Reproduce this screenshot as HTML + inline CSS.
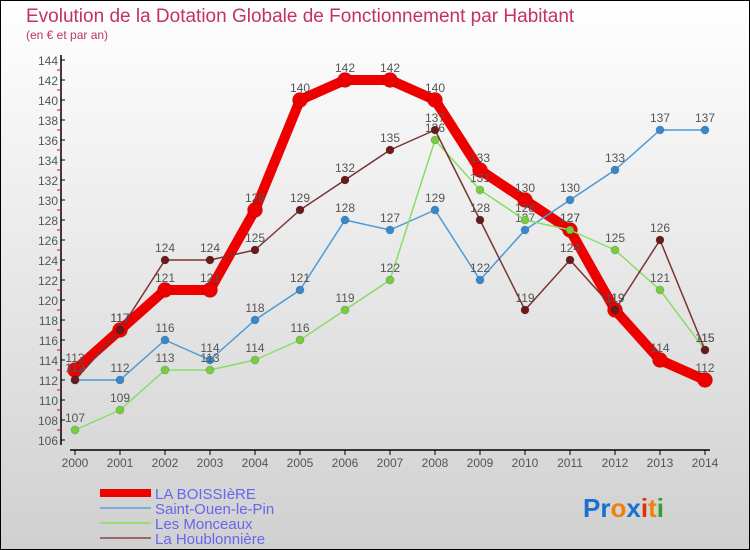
<!DOCTYPE html>
<html><head><meta charset="utf-8"><style>
html,body{margin:0;padding:0;}
body{width:750px;height:550px;overflow:hidden;}
svg{display:block;}
text{font-family:"Liberation Sans",sans-serif;}
</style></head><body>
<svg id="chart" width="750" height="550" xmlns="http://www.w3.org/2000/svg">
<defs><linearGradient id="bg" x1="0" y1="0" x2="0" y2="1"><stop offset="0" stop-color="#ffffff"/><stop offset="1" stop-color="#d0d0d0"/></linearGradient></defs>
<rect x="0.5" y="0.5" width="749" height="549" fill="url(#bg)" stroke="#000"/>
<text x="26" y="22" font-size="19" fill="#c4325f">Evolution de la Dotation Globale de Fonctionnement par Habitant</text>
<text x="26" y="39" font-size="12" fill="#c4325f">(en € et par an)</text>
<g id="axes"></g>
<g id="series"></g>
<g id="legend"></g>
<text x="583" y="517" font-size="26" font-weight="bold"><tspan fill="#1a6fd0">Pr</tspan><tspan fill="#f08010">o</tspan><tspan fill="#1a6fd0">x</tspan><tspan fill="#e03010">i</tspan><tspan fill="#f08010">t</tspan><tspan fill="#30a030">i</tspan></text>
</svg>
<script>
const years=[2000,2001,2002,2003,2004,2005,2006,2007,2008,2009,2010,2011,2012,2013,2014];
const boissiere=[113,117,121,121,129,140,142,142,140,133,130,127,119,114,112];
const saintOuen=[112,112,116,114,118,121,128,127,129,122,127,130,133,137,137];
const monceaux=[107,109,113,113,114,116,119,122,136,131,128,127,125,121,115];
const houblon=[112,117,124,124,125,129,132,135,137,128,119,124,119,126,115];
const yTicks=[106,108,110,112,114,116,118,120,122,124,126,128,130,132,134,136,138,140,142,144];
const NS="http://www.w3.org/2000/svg";
function X(i){return 75+i*45;}
function Y(v){return 60+(144-v)*10;}
function mk(tag,attrs,parent){const e=document.createElementNS(NS,tag);for(const k in attrs)e.setAttribute(k,attrs[k]);parent.appendChild(e);return e;}
const axes=document.getElementById('axes');
let yl=mk('line',{x1:61,y1:55,x2:61,y2:445,stroke:'#000','stroke-width':1.5},axes);


let xl=mk('line',{x1:70,y1:450,x2:710,y2:450,stroke:'#000','stroke-width':1.5},axes);


yTicks.forEach(v=>{
  mk('line',{x1:61,y1:Y(v),x2:65,y2:Y(v),stroke:'#000'},axes);
  if(v<144)mk('line',{x1:57,y1:Y(v+1),x2:61,y2:Y(v+1),stroke:'#e00'},axes);
  const t=mk('text',{x:58,y:Y(v)+5,'text-anchor':'end','font-size':12,fill:'#555'},axes);
  t.textContent=v;
  
  
});
years.forEach((yr,i)=>{
  mk('line',{x1:X(i),y1:450,x2:X(i),y2:455,stroke:'#000'},axes);
  const t=mk('text',{x:X(i),y:467,'text-anchor':'middle','font-size':12,fill:'#555'},axes);
  t.textContent=yr;
  
  
});
const series=[
 {name:'boissiere',vals:boissiere,color:'#ee0000',dot:'#ee0000',w:10,r:7.5},
 {name:'saint-ouen',vals:saintOuen,color:'#4a9ad8',dot:'#3a88cc',w:1.5,r:4},
 {name:'monceaux',vals:monceaux,color:'#88dd66',dot:'#77cc44',w:1.5,r:4},
 {name:'houblonniere',vals:houblon,color:'#7a3333',dot:'#6a1a1a',w:1.5,r:4}
];
const sg=document.getElementById('series');
series.forEach(s=>{
  const g=mk('g',{},sg);
  
  
  const pts=s.vals.map((v,i)=>X(i)+','+Y(v)).join(' ');
  const pl=mk('polyline',{points:pts,fill:'none',stroke:s.color,'stroke-width':s.w,'stroke-linejoin':'round'},g);
  
  
  s.vals.forEach((v,i)=>{
    const c=mk('circle',{cx:X(i),cy:Y(v),r:s.r,fill:s.dot,stroke:'rgba(0,0,0,0.15)'},g);
    
    
    const t=mk('text',{x:X(i),y:Y(v)-8,'text-anchor':'middle','font-size':12,fill:'#555'},g);
    t.textContent=v;
    
    
  });
});
const lg=document.getElementById('legend');
const names=['LA BOISSIèRE','Saint-Ouen-le-Pin','Les Monceaux','La Houblonnière'];
const lcol=['#ee0000','#7aaed8','#99dd77','#9a6a6a'];
const lw=[8,2,2,2];
names.forEach((n,i)=>{
  const y=493+i*15;
  const l=mk('line',{x1:100,y1:y,x2:151,y2:y,stroke:lcol[i],'stroke-width':lw[i]},lg);
  
  
  const t=mk('text',{x:155,y:y+6,'font-size':15,fill:'#6666ee'},lg);
  t.textContent=n;
  
  
});
</script>
</body></html>
